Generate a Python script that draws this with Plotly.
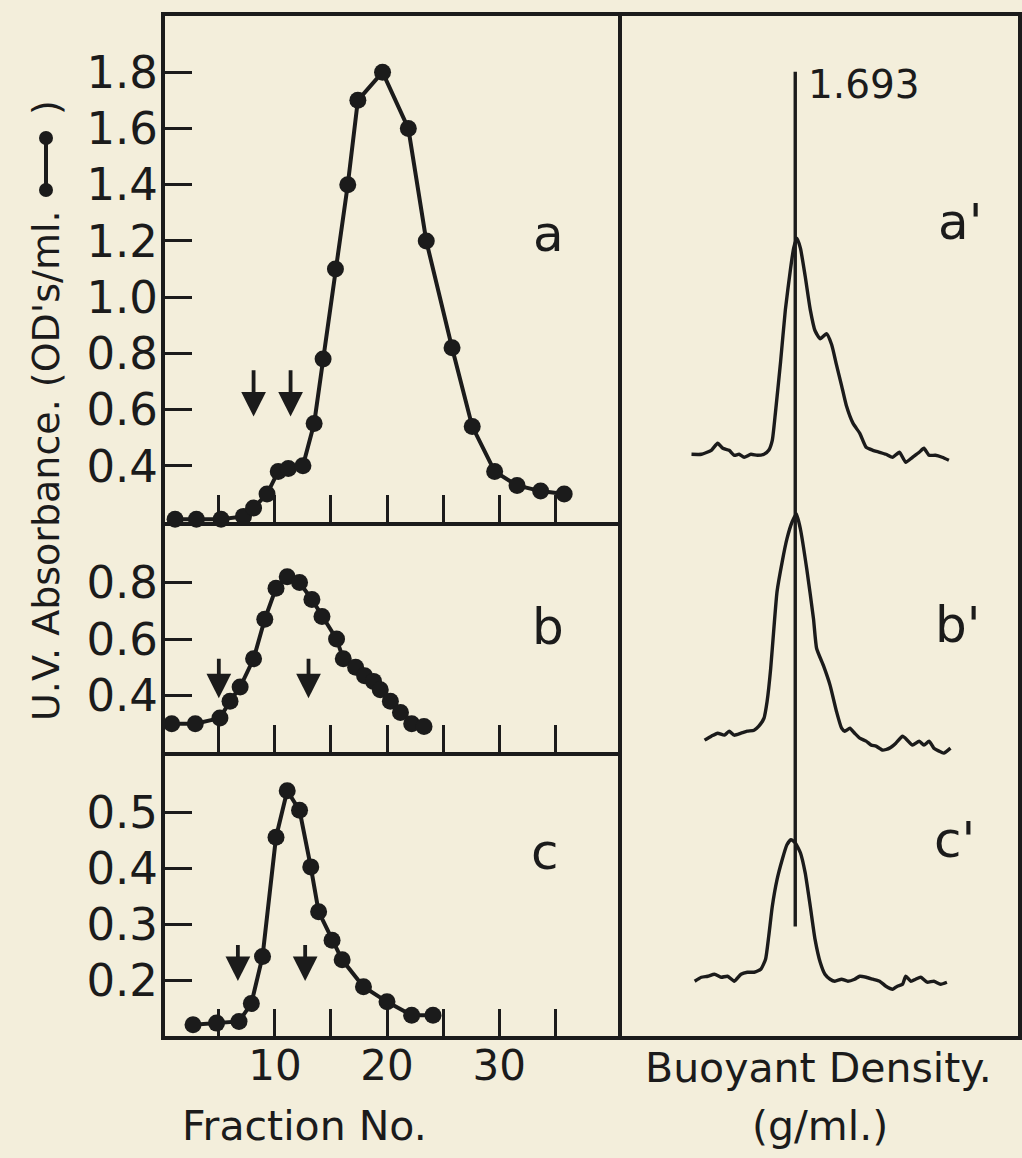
import plotly.graph_objects as go

# ---------------------------------------------------------------- data
# Sucrose-gradient fractions: U.V. absorbance (OD's/ml) per fraction
frac_a = [1.1, 3.0, 5.2, 7.2, 8.1, 9.3, 10.3, 11.2, 12.5, 13.5, 14.3, 15.4,
          16.5, 17.4, 19.6, 21.9, 23.5, 25.8, 27.6, 29.6, 31.6, 33.7, 35.8]
od_a = [0.21, 0.21, 0.21, 0.22, 0.25, 0.30, 0.38, 0.39, 0.40, 0.55, 0.78, 1.10,
        1.40, 1.70, 1.80, 1.60, 1.20, 0.82, 0.54, 0.38, 0.33, 0.31, 0.30]

frac_b = [0.8, 2.9, 5.1, 6.0, 6.9, 8.1, 9.1, 10.1, 11.1, 12.2, 13.3, 14.2,
          15.5, 16.1, 17.2, 18.0, 18.8, 19.4, 20.3, 21.2, 22.2, 23.3]
od_b = [0.30, 0.30, 0.32, 0.38, 0.43, 0.53, 0.67, 0.78, 0.82, 0.80, 0.74, 0.68,
        0.60, 0.53, 0.50, 0.47, 0.45, 0.42, 0.38, 0.34, 0.30, 0.29]

frac_c = [2.7, 4.8, 6.8, 7.9, 8.9, 10.1, 11.1, 12.2, 13.2, 13.9, 15.1, 16.0,
          17.9, 20.0, 22.2, 24.1]
od_c = [0.12, 0.123, 0.126, 0.158, 0.242, 0.455, 0.538, 0.503, 0.402, 0.322,
        0.271, 0.236, 0.188, 0.161, 0.137, 0.137]

# pooled-fraction arrows: (fraction, arrow tip OD, arrow tail OD)
arrows_a = [(8.1, 0.575, 0.745), (11.4, 0.575, 0.745)]
arrows_b = [(5.0, 0.39, 0.535), (13.0, 0.39, 0.535)]
arrows_c = [(6.7, 0.198, 0.265), (12.7, 0.198, 0.265)]

# CsCl densitometer tracings: buoyant density (g/ml) vs relative absorbance
dens_a1 = [1.6668, 1.6693, 1.6718, 1.6734, 1.6747, 1.6763, 1.6776, 1.6788,
           1.6801, 1.6818, 1.6834, 1.6851, 1.6863, 1.6872, 1.6880, 1.6893,
           1.6905, 1.6918, 1.6926, 1.6934, 1.6943, 1.6955, 1.6968, 1.6980,
           1.6993, 1.7009, 1.7022, 1.7034, 1.7047, 1.7059, 1.7076, 1.7093,
           1.7109, 1.7126, 1.7143, 1.7159, 1.7176, 1.7193, 1.7209, 1.7226,
           1.7243, 1.7255, 1.7268, 1.7284, 1.7301, 1.7318]
abs_a1 = [0.0, 0.0, 0.4, 1.1, 0.6, 0.4, -0.1, 0.0, -0.3, 0.0, -0.1, 0.0,
          0.4, 1.4, 4.2, 9.3, 14.5, 18.6, 20.7, 21.7, 20.7, 17.9, 14.5, 12.4,
          11.6, 12.1, 11.0, 9.0, 6.9, 4.9, 3.1, 2.1, 0.7, 0.4, 0.2, 0.0,
          -0.3, 0.2, -0.8, -0.3, 0.2, 0.6, -0.1, -0.1, -0.3, -0.6]

dens_b1 = [1.6701, 1.6718, 1.6734, 1.6751, 1.6763, 1.6776, 1.6793, 1.6809,
           1.6826, 1.6838, 1.6851, 1.6859, 1.6868, 1.6876, 1.6884, 1.6897,
           1.6909, 1.6922, 1.6933, 1.6943, 1.6959, 1.6976, 1.6984, 1.7001,
           1.7018, 1.7034, 1.7047, 1.7055, 1.7068, 1.7080, 1.7093, 1.7109,
           1.7122, 1.7134, 1.7151, 1.7168, 1.7184, 1.7201, 1.7213, 1.7226,
           1.7243, 1.7255, 1.7268, 1.7280, 1.7293, 1.7305, 1.7322]
abs_b1 = [-0.6, -0.2, 0.1, -0.1, 0.3, -0.1, 0.1, 0.3, 0.4, 0.8, 1.6, 3.3,
          6.6, 10.6, 14.3, 17.3, 19.6, 21.3, 22.1, 20.6, 16.6, 11.6, 8.6, 6.9,
          4.9, 2.3, 0.6, 0.3, 0.6, 0.1, -0.4, -0.7, -1.1, -1.2, -1.6, -1.4,
          -0.9, -0.2, -0.6, -1.1, -0.7, -1.1, -0.7, -1.4, -1.7, -1.9, -1.4]

dens_c1 = [1.6676, 1.6693, 1.6709, 1.6726, 1.6743, 1.6759, 1.6776, 1.6793,
           1.6809, 1.6826, 1.6843, 1.6855, 1.6863, 1.6872, 1.6884, 1.6897,
           1.6909, 1.6919, 1.6930, 1.6943, 1.6955, 1.6968, 1.6980, 1.6993,
           1.7005, 1.7018, 1.7030, 1.7047, 1.7063, 1.7080, 1.7093, 1.7109,
           1.7126, 1.7143, 1.7159, 1.7176, 1.7188, 1.7201, 1.7209, 1.7222,
           1.7234, 1.7247, 1.7263, 1.7280, 1.7297, 1.7313]
abs_c1 = [-0.5, -0.1, 0.0, 0.2, -0.1, 0.0, -0.5, 0.2, 0.4, 0.4, 0.7, 1.7,
          4.0, 7.0, 9.7, 11.7, 13.2, 13.7, 13.4, 12.4, 10.4, 7.0, 3.7, 1.4,
          0.2, -0.3, -0.5, -0.3, -0.5, -0.3, 0.0, -0.1, -0.3, -0.5, -1.0,
          -1.3, -1.0, -0.8, 0.0, -0.5, -0.3, -0.1, -0.6, -0.5, -0.8, -0.6]

marker_density = 1.693
marker_span = (11.0, 96.8)

frac_ticks = [5, 10, 15, 20, 25, 30, 35]
frac_ticktext = ["", "10", "", "20", "", "30", ""]
ticks_a = [0.4, 0.6, 0.8, 1.0, 1.2, 1.4, 1.6, 1.8]
ticks_b = [0.4, 0.6, 0.8]
ticks_c = [0.2, 0.3, 0.4, 0.5]

# ---------------------------------------------------------------- styling
W, H = 1022, 1158
INK = "#1b1b1b"
PAPER = "#f3eedb"
FONT = "DejaVu Sans"
LW = 4  # frame line width

# vertical stacking of the three tracings in the right-hand panel
baseline = {"a": 58.4, "b": 30.3, "c": 6.0}


def fx(px):
    return px / W


def fy(py):
    return 1 - py / H


# frame edges (pixel centres of the drawn frame lines)
LEFT, MID, RIGHT = 163, 620, 1020
TOP, AB, BC, BOT = 14, 524, 754, 1038
h = LW / 2  # axis lines sit just outside their domain

fig = go.Figure()

for frac, od, ax_id in [(frac_a, od_a, ""), (frac_b, od_b, "2"), (frac_c, od_c, "3")]:
    fig.add_trace(go.Scatter(
        x=frac, y=od, xaxis="x" + ax_id, yaxis="y" + ax_id,
        mode="lines+markers", cliponaxis=False,
        line=dict(color=INK, width=4),
        marker=dict(color=INK, size=17, line=dict(width=0)),
        showlegend=False, hoverinfo="skip"))

for dens, ab, key in [(dens_a1, abs_a1, "a"), (dens_b1, abs_b1, "b"), (dens_c1, abs_c1, "c")]:
    fig.add_trace(go.Scatter(
        x=dens, y=[v + baseline[key] for v in ab], xaxis="x4", yaxis="y4",
        mode="lines", line=dict(color=INK, width=3.4, shape="spline", smoothing=0.5),
        showlegend=False, hoverinfo="skip"))

fig.add_trace(go.Scatter(
    x=[marker_density, marker_density], y=list(marker_span), xaxis="x4", yaxis="y4",
    mode="lines", line=dict(color=INK, width=3.4), showlegend=False, hoverinfo="skip"))

axis_common = dict(showline=True, linecolor=INK, linewidth=LW, mirror=True,
                   showgrid=False, zeroline=False, ticks="inside", ticklen=27,
                   tickwidth=3, tickcolor=INK, ticklabelstandoff=-6,
                   tickfont=dict(family=FONT, size=45, color=INK))

xdom_left = [fx(LEFT + h), fx(MID - h)]
frac_range = [0.2, 40.6]

layout = dict(
    width=W, height=H, margin=dict(l=0, r=0, t=0, b=0),
    paper_bgcolor=PAPER, plot_bgcolor=PAPER,
    xaxis=dict(axis_common, domain=xdom_left, range=frac_range, anchor="y",
               tickvals=frac_ticks, showticklabels=False),
    yaxis=dict(axis_common, domain=[fy(AB - h), fy(TOP + h)], range=[0.2, 2.0], anchor="x",
               tickvals=ticks_a, ticktext=[f"{v:.1f}" for v in ticks_a]),
    xaxis2=dict(axis_common, domain=xdom_left, range=frac_range, anchor="y2",
                tickvals=frac_ticks, showticklabels=False),
    yaxis2=dict(axis_common, domain=[fy(BC - h), fy(AB + h)], range=[0.2, 1.0], anchor="x2",
                tickvals=ticks_b, ticktext=[f"{v:.1f}" for v in ticks_b]),
    xaxis3=dict(axis_common, domain=xdom_left, range=frac_range, anchor="y3",
                tickvals=frac_ticks, ticktext=frac_ticktext, ticklabelstandoff=-10,
                tickfont=dict(family=FONT, size=42, color=INK)),
    yaxis3=dict(axis_common, domain=[fy(BOT - h), fy(BC + h)], range=[0.1, 0.6], anchor="x3",
                tickvals=ticks_c, ticktext=[f"{v:.1f}" for v in ticks_c]),
    xaxis4=dict(showline=True, linecolor=INK, linewidth=LW, mirror=True,
                showgrid=False, zeroline=False, showticklabels=False, ticks="",
                domain=[fx(MID + h), fx(RIGHT - h)], range=[1.64925, 1.74925], anchor="y4"),
    yaxis4=dict(showline=True, linecolor=INK, linewidth=LW, mirror=True,
                showgrid=False, zeroline=False, showticklabels=False, ticks="",
                domain=[fy(BOT - h), fy(TOP + h)], range=[0, 102.4], anchor="x4"),
)
fig.update_layout(**layout)

annotations = []

# pooled-fraction arrows
for arrows, xr, yr in [(arrows_a, "x", "y"), (arrows_b, "x2", "y2"), (arrows_c, "x3", "y3")]:
    for f, tip, tail in arrows:
        annotations.append(dict(
            x=f, y=tip, ax=f, ay=tail, xref=xr, yref=yr, axref=xr, ayref=yr,
            showarrow=True, arrowhead=2, arrowsize=1.3, arrowwidth=3.8,
            arrowcolor=INK, text=""))


def label(text, px, py, size, xanchor="center", **kw):
    annotations.append(dict(
        text=text, x=fx(px), y=fy(py), xref="paper", yref="paper",
        xanchor=xanchor, yanchor="middle",
        showarrow=False, font=dict(family=FONT, size=size, color=INK), **kw))


label("a", 548, 234, 50)
label("b", 548, 627, 50)
label("c", 545, 852, 50)
label("a'", 960, 222, 50)
label("b'", 957, 625, 50)
label("c'", 954, 840, 50)
label("1.693", 806, 84, 39, xanchor="left")
label("U.V. Absorbance. (OD's/ml.", 46, 466, 38, textangle=-90)
label(")", 46, 108, 38, textangle=-90)
label("Fraction No.", 304, 1126, 41)
label("Buoyant Density.", 818, 1068, 41)
label("(g/ml.)", 820, 1126, 41)

fig.update_layout(annotations=annotations)

# line-with-dots key inside the axis title
key_x, key_top, key_bot, r = 46, 138, 190, 7
fig.add_shape(type="line", xref="paper", yref="paper",
              x0=fx(key_x), x1=fx(key_x), y0=fy(key_top), y1=fy(key_bot),
              line=dict(color=INK, width=4))
for cy in (key_top, key_bot):
    fig.add_shape(type="circle", xref="paper", yref="paper",
                  x0=fx(key_x - r), x1=fx(key_x + r), y0=fy(cy + r), y1=fy(cy - r),
                  fillcolor=INK, line=dict(color=INK, width=0))

fig.write_html("out.html")
